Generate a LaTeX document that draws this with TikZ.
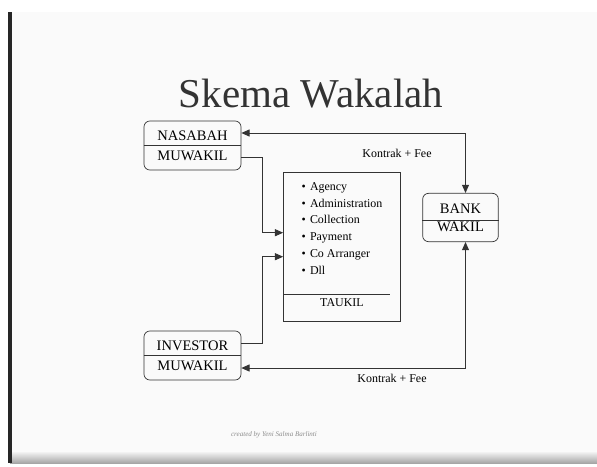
\documentclass[tikz,border=0pt]{standalone}
\usepackage{fontspec}
\setmainfont{Liberation Serif}
\usetikzlibrary{arrows.meta}

\tikzset{
  party/.style={draw=black!80, line width=0.6pt, rounded corners=5pt, inner sep=0pt,
    minimum width=2.91cm, minimum height=1.47cm, align=center,
    font=\fontsize{12.4}{17}\selectfont},
  link/.style={draw=black!80, line width=0.7pt, >={Triangle[length=7pt,width=6pt]}},
  label/.style={font=\fontsize{10.2}{12}\selectfont, inner sep=0pt}
}

\begin{document}
\begin{tikzpicture}[x=0.03cm,y=-0.03cm]
  \useasboundingbox (0,0) rectangle (597,466);
  % slide
  \fill[gray!4] (10,12) rectangle (597,458);
  \shade[top color=gray!10, bottom color=gray!70] (10,452) rectangle (597,463);
  \fill[black!85] (8,12) rectangle (12,463);

  \node[font=\fontsize{35}{40}\selectfont, text=black!80] (title) at (311,94) {Skema Wakalah};

  % parties
  \node[party] (nas) at (192.5,145.5) {NASABAH\\MUWAKIL};
  \node[party] (inv) at (192.5,355.5) {INVESTOR\\MUWAKIL};
  \node[party, minimum width=2.27cm, minimum height=1.45cm, font=\fontsize{12.4}{15.4}\selectfont] (bank) at (460.5,217.5) {BANK\\WAKIL};
  \draw[black!80, line width=0.6pt] (nas.west) -- (nas.east);
  \draw[black!80, line width=0.6pt] (inv.west) -- (inv.east);
  \draw[black!80, line width=0.6pt] ([shift={(0,2.5)}]bank.west) -- ([shift={(0,2.5)}]bank.east);

  % taukil box
  \node[draw=black!80, line width=0.6pt, minimum width=3.51cm, minimum height=4.45cm] (taukil) at (342,246.9) {};
  \draw[black!80, line width=0.6pt] (taukil.west |- 0,294.3) -- (390,294.3);
  \node[anchor=north west, align=left, inner sep=0pt, font=\fontsize{10.2}{14.4}\selectfont] (tasks) at (301.5,182) {%
    \textbullet\hspace{3.5pt}Agency\\
    \textbullet\hspace{3.5pt}Administration\\
    \textbullet\hspace{3.5pt}Collection\\
    \textbullet\hspace{3.5pt}Payment\\
    \textbullet\hspace{3.5pt}Co Arranger\\
    \textbullet\hspace{3.5pt}Dll};
  \node[label] (tk) at (342,302.7) {TAUKIL};

  % connectors
  \coordinate (in1) at ([shift={(0,-14.2)}]taukil.west);
  \coordinate (in2) at ([shift={(0,9.8)}]taukil.west);
  \draw[link,<->] ([shift={(0,-12.5)}]nas.east) -| ([shift={(5,0)}]bank.north);
  \draw[link,<->] ([shift={(0,12.5)}]inv.east) -| ([shift={(5,0)}]bank.south);
  \draw[link,->] ([shift={(0,12.2)}]nas.east) -- ++(21,0) |- (in1);
  \draw[link,->] ([shift={(0,-12.5)}]inv.east) -- ++(21,0) |- (in2);

  \node[label] (fee1) at (397,153) {Kontrak + Fee};
  \node[label] (fee2) at (392,378) {Kontrak + Fee};

  \node[font=\itshape\fontsize{6}{8}\selectfont, text=black!45] (credit) at (274,435) {created by Yeni Salma Barlinti};
\end{tikzpicture}
\end{document}
